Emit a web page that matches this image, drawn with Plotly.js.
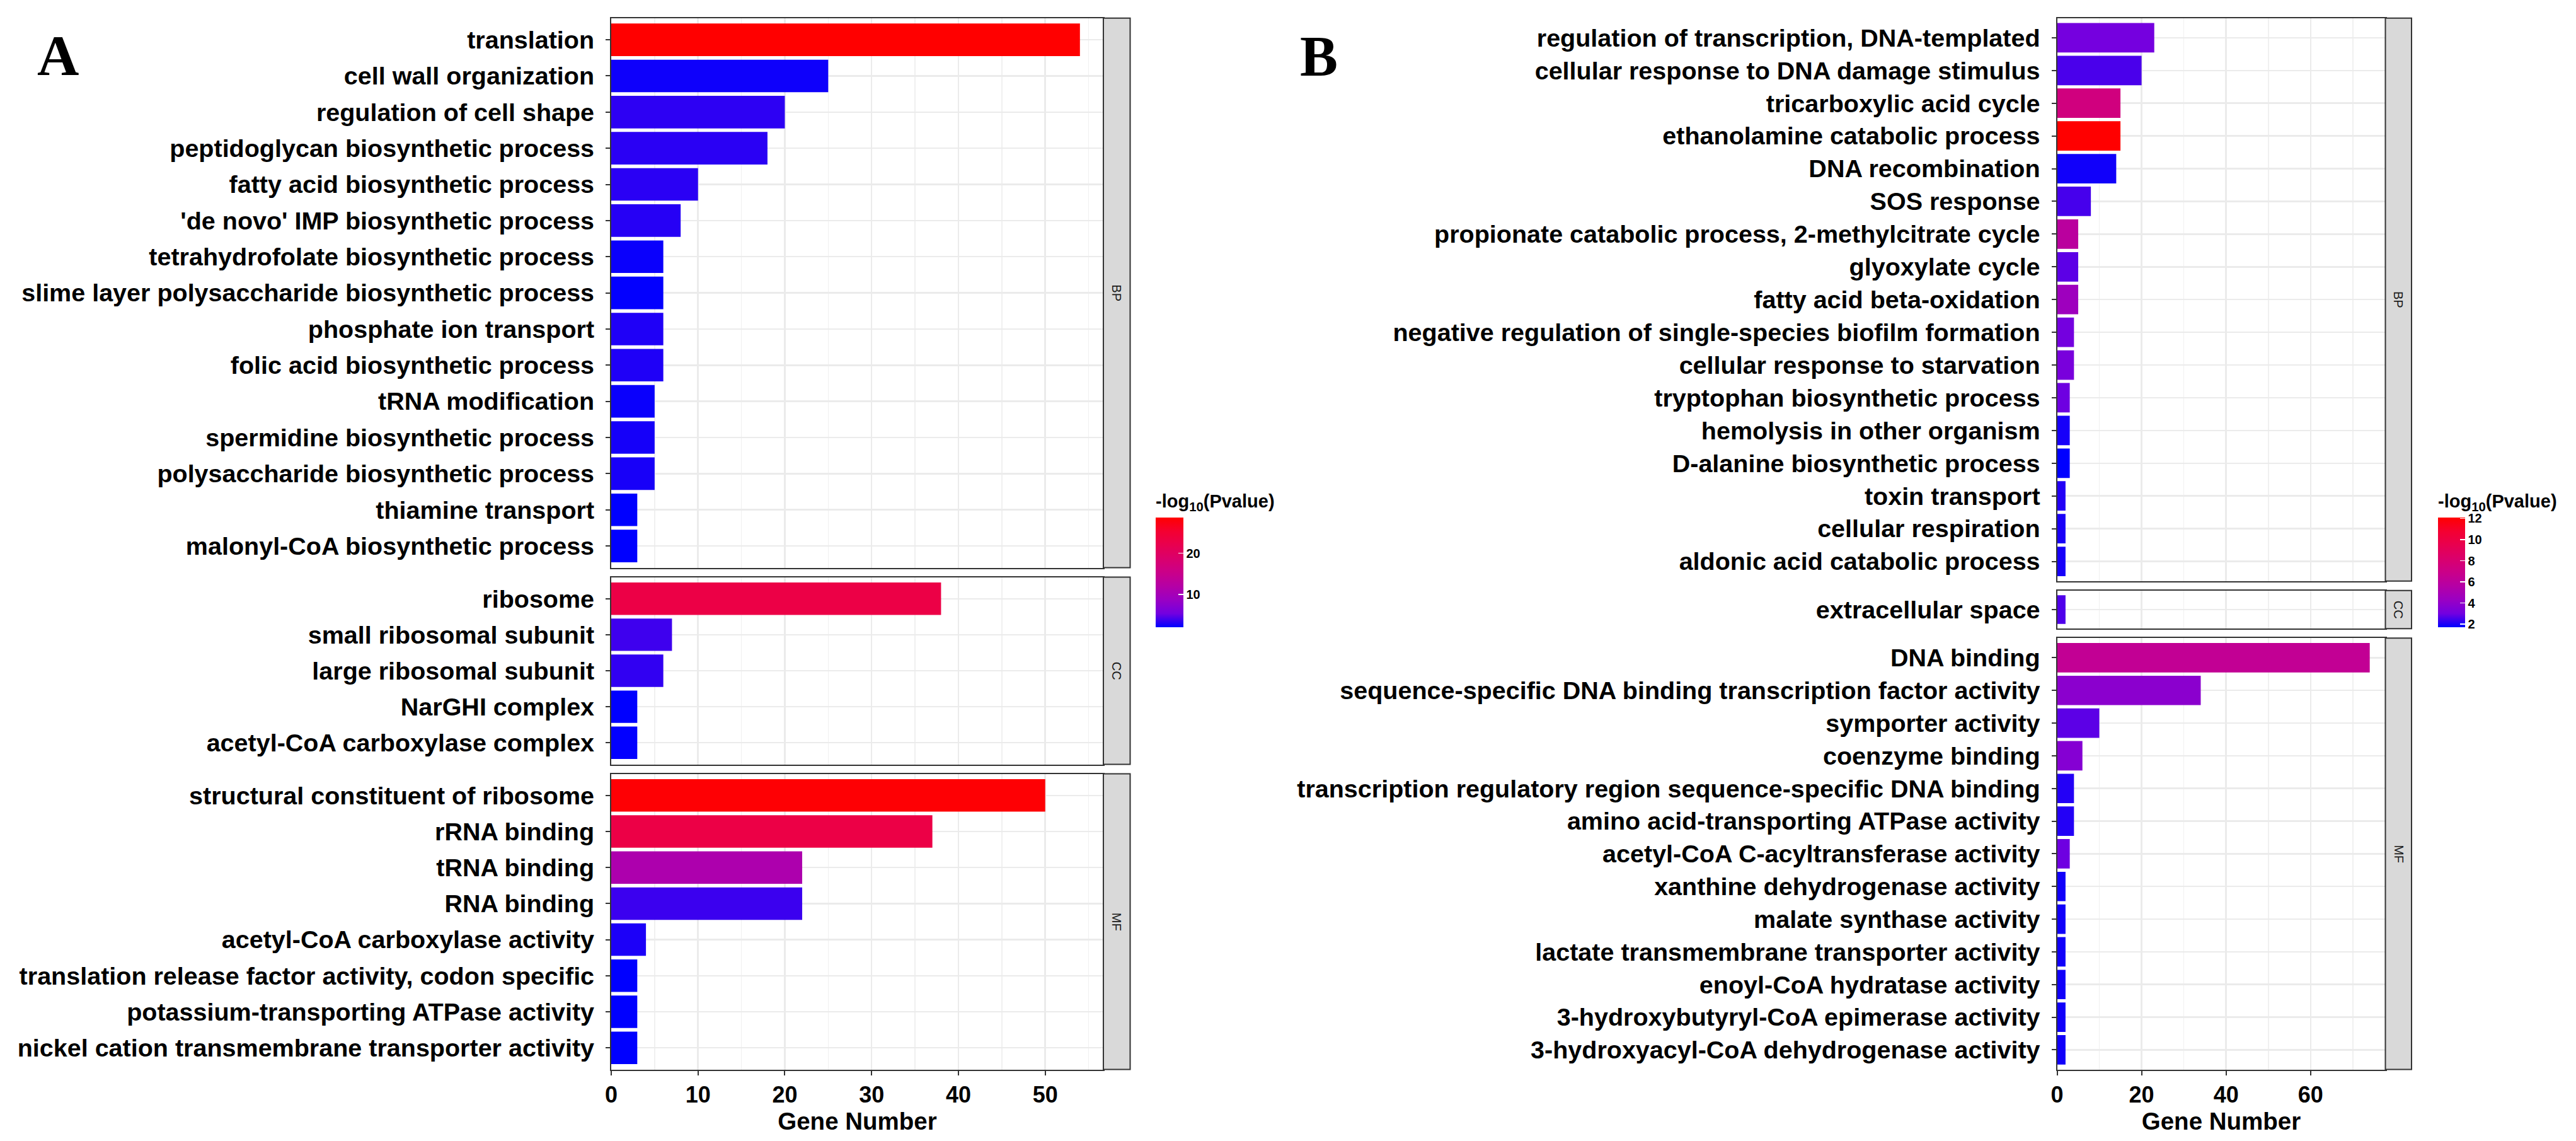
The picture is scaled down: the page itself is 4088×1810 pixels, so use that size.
<!DOCTYPE html>
<html>
<head>
<meta charset="utf-8">
<script src="https://cdn.plot.ly/plotly-3.0.1.min.js"></script>
<style>html,body{margin:0;padding:0;background:#fff;}#chart{width:4088px;height:1810px;}</style>
</head>
<body>
<div id="chart"></div>
<script>
// ---------------- DATA ----------------
// Panel A
const A_BP_terms = ["translation","cell wall organization","regulation of cell shape","peptidoglycan biosynthetic process","fatty acid biosynthetic process","'de novo' IMP biosynthetic process","tetrahydrofolate biosynthetic process","slime layer polysaccharide biosynthetic process","phosphate ion transport","folic acid biosynthetic process","tRNA modification","spermidine biosynthetic process","polysaccharide biosynthetic process","thiamine transport","malonyl-CoA biosynthetic process"];
const A_BP_counts = [54,25,20,18,10,8,6,6,6,6,5,5,5,3,3];
const A_BP_logp = [28.6,2.5,3.4,3.3,3.3,3.2,2.4,2.2,3.0,3.0,2.4,2.7,2.8,2.1,2.1];

const A_CC_terms = ["ribosome","small ribosomal subunit","large ribosomal subunit","NarGHI complex","acetyl-CoA carboxylase complex"];
const A_CC_counts = [38,7,6,3,3];
const A_CC_logp = [23.0,3.9,3.5,2.1,2.15];

const A_MF_terms = ["structural constituent of ribosome","rRNA binding","tRNA binding","RNA binding","acetyl-CoA carboxylase activity","translation release factor activity, codon specific","potassium-transporting ATPase activity","nickel cation transmembrane transporter activity"];
const A_MF_counts = [50,37,22,22,4,3,3,3];
const A_MF_logp = [28.3,23.0,11.1,3.8,2.9,2.1,2.1,2.1];

// Panel B
const B_BP_terms = ["regulation of transcription, DNA-templated","cellular response to DNA damage stimulus","tricarboxylic acid cycle","ethanolamine catabolic process","DNA recombination","SOS response","propionate catabolic process, 2-methylcitrate cycle","glyoxylate cycle","fatty acid beta-oxidation","negative regulation of single-species biofilm formation","cellular response to starvation","tryptophan biosynthetic process","hemolysis in other organism","D-alanine biosynthetic process","toxin transport","cellular respiration","aldonic acid catabolic process"];
const B_BP_counts = [23,20,15,15,14,8,5,5,5,4,4,3,3,3,2,2,2];
const B_BP_logp = [3.06,2.54,7.4,12.08,1.9,2.5,5.9,2.75,4.5,3.05,3.2,2.95,1.97,1.71,2.1,2.0,1.97];

const B_CC_terms = ["extracellular space"];
const B_CC_counts = [2];
const B_CC_logp = [2.6];

const B_MF_terms = ["DNA binding","sequence-specific DNA binding transcription factor activity","symporter activity","coenzyme binding","transcription regulatory region sequence-specific DNA binding","amino acid-transporting ATPase activity","acetyl-CoA C-acyltransferase activity","xanthine dehydrogenase activity","malate synthase activity","lactate transmembrane transporter activity","enoyl-CoA hydratase activity","3-hydroxybutyryl-CoA epimerase activity","3-hydroxyacyl-CoA dehydrogenase activity"];
const B_MF_counts = [74,34,10,6,4,4,3,2,2,2,2,2,2];
const B_MF_logp = [6.4,3.8,2.75,3.6,2.1,2.1,2.95,1.9,1.9,1.9,1.9,1.9,1.9];

const facetLabels = ["BP","CC","MF"];
const xTitle = "Gene Number";
const cbTitle = "-log<sub>10</sub>(Pvalue)";
const A_cbTicks = [10,20];
const B_cbTicks = [2,4,6,8,10,12];

// ---------------- LAYOUT HELPERS ----------------
const W = 4088, H = 1810;
const px = x => x / W;
const py = y => 1 - y / H;
const FONT = "Liberation Sans, Arial, Helvetica, sans-serif";

// blue -> red gradient interpolated in Lab space (like ggplot2)
const labScale = [[0,'#0000FF'],[0.125,'#7300E0'],[0.25,'#9A00C3'],[0.375,'#B500A5'],[0.5,'#CA0089'],[0.625,'#DA006C'],[0.75,'#E8004F'],[0.875,'#F40031'],[1,'#FF0000']];

const panels = [
  // side A
  {terms:A_BP_terms, counts:A_BP_counts, logp:A_BP_logp, ca:'coloraxis', xd:[970,1751], yd:[28.7,900.5], strip:[1751,1793.5], lab:facetLabels[0], bottom:false, xmax:Math.max(...A_BP_counts,...A_CC_counts,...A_MF_counts)*1.05, dt:10, mdt:5},
  {terms:A_CC_terms, counts:A_CC_counts, logp:A_CC_logp, ca:'coloraxis', xd:[970,1751], yd:[915.5,1212.5], strip:[1751,1793.5], lab:facetLabels[1], bottom:false, xmax:Math.max(...A_BP_counts,...A_CC_counts,...A_MF_counts)*1.05, dt:10, mdt:5},
  {terms:A_MF_terms, counts:A_MF_counts, logp:A_MF_logp, ca:'coloraxis', xd:[970,1751], yd:[1227.5,1696.5], strip:[1751,1793.5], lab:facetLabels[2], bottom:true, xmax:Math.max(...A_BP_counts,...A_CC_counts,...A_MF_counts)*1.05, dt:10, mdt:5},
  // side B
  {terms:B_BP_terms, counts:B_BP_counts, logp:B_BP_logp, ca:'coloraxis2', xd:[3264.5,3785.5], yd:[28.7,921.7], strip:[3785.5,3827], lab:facetLabels[0], bottom:false, xmax:Math.max(...B_BP_counts,...B_CC_counts,...B_MF_counts)*1.05, dt:20, mdt:10},
  {terms:B_CC_terms, counts:B_CC_counts, logp:B_CC_logp, ca:'coloraxis2', xd:[3264.5,3785.5], yd:[936.7,997.3], strip:[3785.5,3827], lab:facetLabels[1], bottom:false, xmax:Math.max(...B_BP_counts,...B_CC_counts,...B_MF_counts)*1.05, dt:20, mdt:10},
  {terms:B_MF_terms, counts:B_MF_counts, logp:B_MF_logp, ca:'coloraxis2', xd:[3264.5,3785.5], yd:[1012.3,1696.5], strip:[3785.5,3827], lab:facetLabels[2], bottom:true, xmax:Math.max(...B_BP_counts,...B_CC_counts,...B_MF_counts)*1.05, dt:20, mdt:10}
];

const data = [];
const layout = {
  width: W, height: H,
  margin: {l:0, r:0, t:0, b:0},
  paper_bgcolor: '#FFFFFF', plot_bgcolor: '#FFFFFF',
  showlegend: false,
  font: {family: FONT, color: '#000000'},
  shapes: [], annotations: [],
  coloraxis: {
    colorscale: labScale,
    colorbar: {
      x: px(1834), xanchor: 'left', xpad: 0, ypad: 0,
      y: py(887.5), yanchor: 'middle',
      thickness: 44, thicknessmode: 'pixels', len: 215, lenmode: 'pixels',
      outlinewidth: 0,
      ticks: 'inside', ticklen: 8, tickwidth: 1.5, tickcolor: '#FFFFFF',
      tickmode: 'array', tickvals: A_cbTicks,
      tickfont: {family: FONT, size: 20, weight: 'bold', color: '#000'},
      title: {text: cbTitle, side: 'top', font: {family: FONT, size: 29, weight: 'bold', color: '#000'}}
    }
  },
  coloraxis2: {
    colorscale: labScale,
    colorbar: {
      x: px(3869), xanchor: 'left', xpad: 0, ypad: 0,
      y: py(887.5), yanchor: 'middle',
      thickness: 43, thicknessmode: 'pixels', len: 215, lenmode: 'pixels',
      outlinewidth: 0,
      ticks: 'inside', ticklen: 8, tickwidth: 1.5, tickcolor: '#FFFFFF',
      tickmode: 'array', tickvals: B_cbTicks,
      tickfont: {family: FONT, size: 20, weight: 'bold', color: '#000'},
      title: {text: cbTitle, side: 'top', font: {family: FONT, size: 29, weight: 'bold', color: '#000'}}
    }
  }
};

panels.forEach((p, i) => {
  const n = i + 1;
  const xk = n === 1 ? 'x' : 'x' + n;
  const yk = n === 1 ? 'y' : 'y' + n;
  data.push({
    type: 'bar', orientation: 'h',
    x: p.counts, y: p.terms,
    xaxis: xk, yaxis: yk,
    width: 0.9,
    marker: {color: p.logp, coloraxis: p.ca, line: {width: 0}},
    hovertemplate: '%{y}: %{x}<extra></extra>'
  });
  const xa = {
    domain: [px(p.xd[0]), px(p.xd[1])],
    anchor: yk,
    range: [0, p.xmax],
    autorange: false,
    showline: true, mirror: true, linecolor: '#333333', linewidth: 2,
    showgrid: true, gridcolor: '#EBEBEB', gridwidth: 2.5,
    zeroline: false,
    tick0: 0, dtick: p.dt,
    minor: {dtick: p.mdt, tick0: 0, showgrid: true, gridcolor: '#F0F0F0', gridwidth: 1.5, ticks: ''},
    automargin: false,
    fixedrange: true
  };
  if (p.bottom) {
    Object.assign(xa, {
      ticks: 'outside', ticklen: 7, tickwidth: 2, tickcolor: '#333333',
      showticklabels: true,
      tickfont: {family: FONT, size: 36, weight: 'bold', color: '#000'},
      title: {text: xTitle, standoff: 6, font: {family: FONT, size: 38.5, weight: 'bold', color: '#000'}}
    });
  } else {
    Object.assign(xa, {ticks: '', showticklabels: false});
  }
  layout['xaxis' + (n === 1 ? '' : n)] = xa;
  layout['yaxis' + (n === 1 ? '' : n)] = {
    domain: [py(p.yd[1]), py(p.yd[0])],
    anchor: xk,
    type: 'category',
    categoryorder: 'array', categoryarray: p.terms,
    range: [p.terms.length - 0.4, -0.6],
    autorange: false,
    showline: true, mirror: true, linecolor: '#333333', linewidth: 2,
    showgrid: true, gridcolor: '#EBEBEB', gridwidth: 2.5,
    zeroline: false,
    ticks: 'outside', ticklen: 7, tickwidth: 2, tickcolor: '#333333',
    ticklabelstandoff: 10,
    tickfont: {family: FONT, size: 39.5, weight: 'bold', color: '#000'},
    automargin: false,
    fixedrange: true
  };
  // facet strip
  layout.shapes.push({
    type: 'rect', xref: 'paper', yref: 'paper',
    x0: px(p.strip[0]), x1: px(p.strip[1]), y0: py(p.yd[1]), y1: py(p.yd[0]),
    fillcolor: '#D9D9D9', line: {color: '#333333', width: 2}, layer: 'above'
  });
  layout.annotations.push({
    xref: 'paper', yref: 'paper',
    x: px((p.strip[0] + p.strip[1]) / 2), y: py((p.yd[0] + p.yd[1]) / 2),
    text: p.lab, textangle: 90, showarrow: false,
    xanchor: 'center', yanchor: 'middle',
    font: {family: FONT, size: 20, color: '#1A1A1A'}
  });
});

// panel letters
layout.annotations.push({xref:'paper', yref:'paper', x: px(92), y: py(88), text: 'A', showarrow: false, xanchor: 'center', yanchor: 'middle', font: {family: 'Liberation Serif, Times New Roman, serif', size: 92, weight: 'bold', color: '#000'}});
layout.annotations.push({xref:'paper', yref:'paper', x: px(2093), y: py(90), text: 'B', showarrow: false, xanchor: 'center', yanchor: 'middle', font: {family: 'Liberation Serif, Times New Roman, serif', size: 90, weight: 'bold', color: '#000'}});

Plotly.newPlot('chart', data, layout, {staticPlot: true, displayModeBar: false});
</script>
</body>
</html>
